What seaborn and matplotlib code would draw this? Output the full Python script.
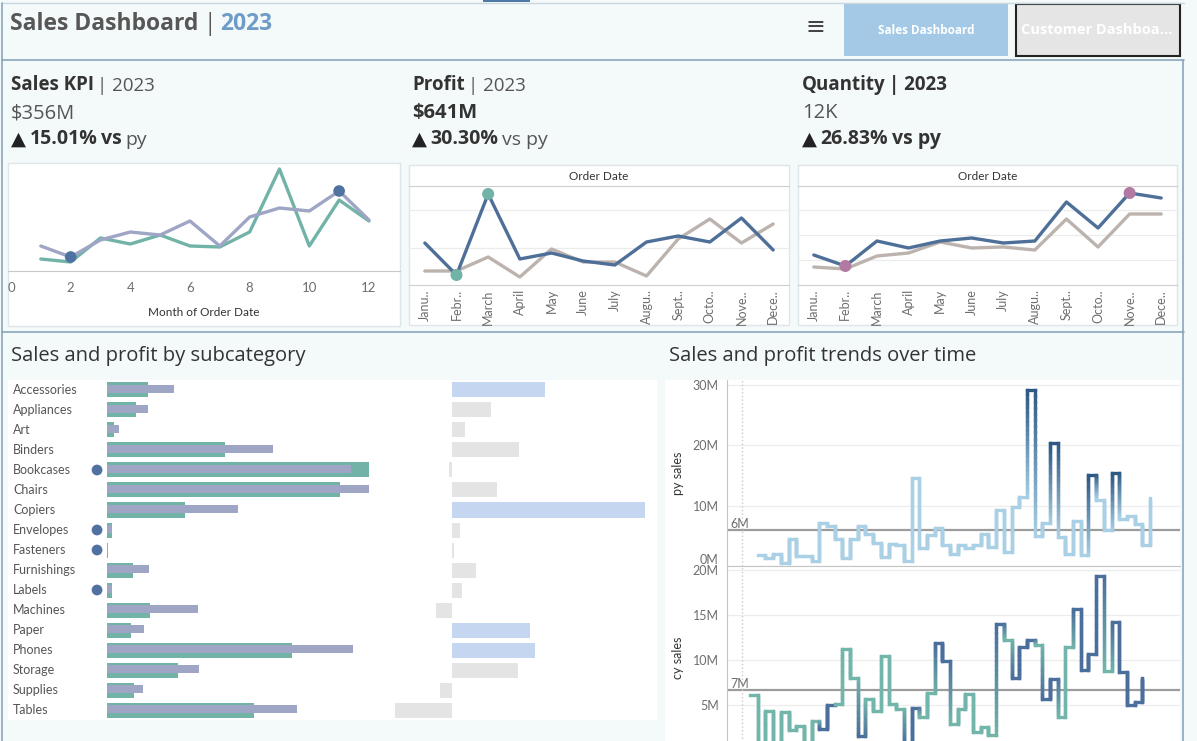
import matplotlib

matplotlib.use("Agg")
import matplotlib.pyplot as plt
import matplotlib.transforms as mtransforms
import numpy as np
import pandas as pd
import seaborn as sns
from matplotlib.collections import LineCollection
from matplotlib.colors import to_rgb
from matplotlib.lines import Line2D
from matplotlib.patches import Rectangle

W, H = 1197, 741

# ---- KPI data (monthly) ----
months_num = list(range(1, 13))
month_labels = ["Janu..", "Febr..", "March", "April", "May", "June",
                "July", "Augu..", "Sept..", "Octo..", "Nove..", "Dece.."]
sales_cy_month = [12, 9, 33, 27, 36, 25, 24, 39, 102, 25, 71, 50]
sales_py_month = [25, 14, 31, 39, 36, 50, 25, 54, 63, 60, 80, 51]
profit_cy_month = [42, 10, 91, 26, 32, 24, 20, 43, 49, 43, 67, 35]
profit_py_month = [14, 14, 28, 8, 36, 23, 23, 9, 46, 66, 42, 61]
qty_cy_month = [30, 19, 44, 37, 44, 47, 42, 44, 83, 57, 92, 87]
qty_py_month = [18, 16, 29, 32, 43, 37, 38, 35, 66, 38, 71, 71]

# ---- subcategory data (M) ----
subcategories = ["Accessories", "Appliances", "Art", "Binders", "Bookcases",
                 "Chairs", "Copiers", "Envelopes", "Fasteners", "Furnishings",
                 "Labels", "Machines", "Paper", "Phones", "Storage",
                 "Supplies", "Tables"]
sub_sales_cy = [11.1, 7.8, 1.9, 31.9, 70.7, 62.9, 21.1, 1.4, 0.3, 7.0,
                1.4, 11.6, 6.5, 50.0, 19.2, 7.3, 39.7]
sub_sales_py = [18.1, 11.1, 3.2, 44.8, 65.9, 70.7, 35.4, 1.4, 0.3, 11.3,
                1.4, 24.6, 10.0, 66.4, 24.8, 9.7, 51.3]
sub_profit = [9.3, 3.9, 1.3, 6.7, -0.3, 4.5, 19.3, 0.8, 0.2, 2.4,
              1.0, -1.6, 7.8, 8.3, 6.6, -1.2, -5.7]
sub_flagged = ["Bookcases", "Envelopes", "Fasteners", "Labels"]

# ---- weekly sales (M) ----
py_weeks = list(range(2, 54))
py_sales = [1.9, 1.3, 2.0, 0.5, 4.5, 1.6, 1.6, 0.9, 7.2, 6.7,
            4.5, 1.3, 4.5, 6.7, 5.3, 3.8, 1.5, 3.6, 3.4, 0.9,
            14.6, 3.0, 5.1, 6.3, 3.4, 2.0, 3.5, 2.9, 3.4, 5.3,
            3.1, 9.3, 2.3, 9.7, 11.5, 29.2, 4.9, 7.1, 20.3, 4.8,
            2.0, 7.4, 1.9, 15.1, 11.0, 6.0, 15.4, 7.8, 8.2, 6.9,
            3.4, 11.3]
cy_weeks = list(range(1, 53))
cy_sales = [6.1, 0.5, 4.3, 0.5, 4.2, 2.2, 2.7, 0.5, 3.2, 2.3,
            5.0, 5.1, 11.2, 8.0, 1.5, 5.6, 4.3, 10.4, 5.1, 4.6,
            0.5, 4.7, 3.7, 6.3, 11.9, 9.9, 2.9, 4.5, 6.2, 2.0,
            2.6, 1.7, 14.0, 12.2, 8.0, 11.4, 12.2, 11.6, 5.6, 7.9,
            3.7, 11.4, 15.6, 8.9, 10.6, 19.3, 8.8, 14.2, 8.7, 5.0,
            5.3, 8.0]
cy_flag = [0, 0, 0, 0, 0, 0, 0, 0, 0, 1,
           1, 0, 0, 0, 1, 0, 0, 0, 0, 0,
           1, 1, 0, 0, 1, 1, 0, 0, 0, 0,
           0, 0, 1, 0, 1, 1, 1, 0, 1, 1,
           0, 0, 1, 1, 1, 1, 0, 1, 1, 1,
           1, 1]

BG = "#f4f9fa"
BORDER = "#8ba6bb"
TEAL = "#72b3a7"
PURPLE = "#9fa6c5"
NAVY = "#4e6f98"
GREY_LINE = "#bcb3ae"
DOT_BLUE = "#4f72a0"
MAUVE = "#b17aa3"
TXT = "#333333"
TICK = "#6e6e6e"
BIG_FONT = ["Open Sans", "DejaVu Sans"]

sns.set_style("white")
plt.rcParams["font.family"] = ["Lato", "DejaVu Sans"]


def box(x0, y0, x1, y1):
    return [x0 / W, 1 - y1 / H, (x1 - x0) / W, (y1 - y0) / H]


fig = plt.figure(figsize=(W / 100, H / 100), dpi=100, facecolor=BG)
base = fig.add_axes([0, 0, 1, 1])
base.set_xlim(0, W)
base.set_ylim(H, 0)
base.axis("off")
base.set_zorder(-5)


def rect(x0, y0, x1, y1, fc="white", ec="none", lw=1.0):
    base.add_patch(Rectangle((x0, y0), x1 - x0, y1 - y0, fc=fc, ec=ec, lw=lw))


def hline(y, x0, x1, color=BORDER, lw=1.2):
    base.add_line(Line2D([x0, x1], [y, y], color=color, lw=lw))


def vline(x, y0, y1, color=BORDER, lw=1.2):
    base.add_line(Line2D([x, x], [y0, y1], color=color, lw=lw))


def rich(x, y, parts, size, gap=2.5):
    prev = None
    for txt, weight, color in parts:
        if prev is None:
            prev = base.text(x, y, txt, fontsize=size, fontweight=weight,
                             color=color, va="center", ha="left",
                             family=BIG_FONT)
        else:
            prev = base.annotate(txt, xy=(1, 0), xycoords=prev,
                                 xytext=(gap, 0), textcoords="offset points",
                                 fontsize=size, fontweight=weight,
                                 color=color, va="bottom", ha="left",
                                 family=BIG_FONT)


# ---- frame / header ----
rect(483, 0, 530, 2, fc="#4e79a7")
hline(3, 2, 1184, color="#c9d7e0", lw=1)
hline(60, 2, 1184)
hline(332, 2, 1184)
vline(2, 3, 741)
vline(1183, 60, 741)

rich(10, 24, [("Sales Dashboard", "bold", "#575757"),
              ("|", "normal", "#575757"),
              ("2023", "bold", "#6e9cc6")], 16.5, gap=3.5)
base.text(815, 27, "\u2261", fontsize=17, color="#444444", ha="center",
          va="center", family="DejaVu Sans")
rect(844, 4, 1008, 56, fc="#a3c9e6")
base.text(926, 30, "Sales Dashboard", fontsize=8.5, fontweight="bold",
          color="white", ha="center", va="center", family=BIG_FONT)
rect(1016, 4, 1180, 56, fc="#e5e5e5", ec="#222222", lw=1.5)
base.text(1097, 30, "Customer Dashboa...", fontsize=10.5, fontweight="bold",
          color="white", ha="center", va="center", family=BIG_FONT)

# ---- KPI texts ----
rich(11, 85, [("Sales KPI", "bold", TXT), ("| 2023", "normal", "#555555")], 13.5)
rich(11, 113, [("$356M", "normal", "#555555")], 14.5)
rich(11, 140, [("\u25b2", "normal", "#222222"), ("15.01%", "bold", TXT),
               ("vs", "bold", TXT), ("py", "normal", "#555555")], 14)
rich(412, 85, [("Profit", "bold", TXT), ("| 2023", "normal", "#555555")], 13.5)
rich(412, 113, [("$641M", "bold", TXT)], 14.5)
rich(412, 140, [("\u25b2", "normal", "#222222"), ("30.30%", "bold", TXT),
                ("vs py", "normal", "#555555")], 14)
rich(802, 85, [("Quantity", "bold", TXT), ("| 2023", "bold", TXT)], 13.5)
rich(802, 113, [("12K", "normal", "#555555")], 14.5)
rich(802, 140, [("\u25b2", "normal", "#222222"), ("26.83%", "bold", TXT),
                ("vs py", "bold", TXT)], 14)

# ---- KPI chart 1 : Sales ----
rect(8, 163, 400, 326, ec="#dfe6ea")
ax1 = fig.add_axes(box(8, 164, 400, 271))
ax1.set_facecolor("none")
sns.lineplot(x=months_num, y=sales_cy_month, color=TEAL, lw=2.4, ax=ax1)
sns.lineplot(x=months_num, y=sales_py_month, color=PURPLE, lw=2.4, ax=ax1)
py_s = pd.Series(sales_py_month, index=months_num)
ext = [py_s.idxmin(), py_s.idxmax()]
sns.scatterplot(x=ext, y=py_s[ext].values, color=DOT_BLUE, s=70,
                edgecolor="none", zorder=5, ax=ax1)
ax1.set_xlim(-0.1, 13.04)
ax1.set_ylim(0, 107)
ax1.set_yticks([])
ax1.set_xticks(range(0, 13, 2))
ax1.tick_params(axis="x", length=0, pad=8, labelsize=9.5, labelcolor=TICK)
ax1.set_xlabel("Month of Order Date", fontsize=8.5, color=TXT, labelpad=9)
ax1.set_ylabel("")
sns.despine(ax=ax1, left=True)
ax1.spines["bottom"].set_color("#c8c8c8")


def month_chart(ax, cy, py, dot_color):
    ax.set_facecolor("none")
    xs = np.arange(len(month_labels))
    sns.lineplot(x=xs, y=py, color=GREY_LINE, lw=2.4, ax=ax)
    sns.lineplot(x=xs, y=cy, color=NAVY, lw=2.4, ax=ax)
    s = pd.Series(cy, index=xs)
    ext = [s.idxmin(), s.idxmax()]
    sns.scatterplot(x=ext, y=s[ext].values, color=dot_color, s=75,
                    edgecolor="none", zorder=5, ax=ax)
    ax.set_xlim(-0.5, 11.5)
    ax.set_ylim(0, 99)
    ax.set_xticks(xs)
    ax.set_xticklabels(month_labels, rotation=90)
    ax.tick_params(axis="x", length=0, pad=3, labelsize=9, labelcolor=TICK)
    ax.tick_params(axis="y", length=0, labelleft=False)
    ax.grid(axis="y", color="#ececec", lw=0.9)
    ax.set_xlabel("")
    ax.set_ylabel("")
    for side in ["left", "right"]:
        ax.spines[side].set_visible(False)
    for side in ["top", "bottom"]:
        ax.spines[side].set_color("#cfcfcf")
    ax.set_title("Order Date", fontsize=8.5, color=TXT, pad=4)


rect(409, 165, 789, 325, ec="#dfe6ea")
ax2 = fig.add_axes(box(409, 186, 789, 285))
month_chart(ax2, profit_cy_month, profit_py_month, TEAL)
ax2.set_yticks([37.5, 75])

rect(798, 165, 1177, 325, ec="#dfe6ea")
ax3 = fig.add_axes(box(798, 186, 1177, 285))
month_chart(ax3, qty_cy_month, qty_py_month, MAUVE)
ax3.set_yticks([25, 50, 75])

# ---- Sales and profit by subcategory ----
base.text(11, 356, "Sales and profit by subcategory", fontsize=14.5,
          color=TXT, va="center", family=BIG_FONT)
rect(8, 380, 657, 720)
rows = np.arange(len(subcategories))

axs = fig.add_axes(box(90, 380, 370, 720))
axs.set_facecolor("none")
sns.barplot(x=sub_sales_cy, y=subcategories, color=TEAL, width=0.75,
            saturation=1, errorbar=None, linewidth=0, ax=axs)
axs.barh(rows - 0.03, sub_sales_py, height=0.4, color=PURPLE, linewidth=0)
flag_rows = [subcategories.index(s) for s in sub_flagged]
sns.scatterplot(x=[-2.7] * len(flag_rows), y=flag_rows, color=DOT_BLUE,
                s=60, edgecolor="none", zorder=5, ax=axs)
axs.set_xlim(-4.6, 71.0)
axs.set_ylim(16.5, -0.5)
axs.axis("off")
lbl_tr = mtransforms.blended_transform_factory(base.transData, axs.transData)
for i, name in enumerate(subcategories):
    base.text(13, i, name, transform=lbl_tr, fontsize=9, color="#555555",
              va="center", ha="left")

axp = fig.add_axes(box(390, 380, 657, 720))
axp.set_facecolor("none")
top4 = sorted(sub_profit, reverse=True)[3]
prof_group = ["top" if p >= top4 else "other" for p in sub_profit]
sns.barplot(x=sub_profit, y=subcategories, hue=prof_group,
            palette={"top": "#c5d7f0", "other": "#e4e4e4"}, dodge=False,
            width=0.75, saturation=1, errorbar=None, legend=False,
            linewidth=0, ax=axp)
axp.set_xlim(-6.2, 20.5)
axp.set_ylim(16.5, -0.5)
axp.axis("off")

# ---- Sales and profit trends over time ----
base.text(669, 356, "Sales and profit trends over time", fontsize=14.5,
          color=TXT, va="center", family=BIG_FONT)
rect(665, 380, 1180, 741)


def step_collection(xs, ys, shade, c_lo, c_hi, n_sub=24):
    lo, hi = np.array(to_rgb(c_lo)), np.array(to_rgb(c_hi))
    segs, cols = [], []
    for i in range(len(xs) - 1):
        segs.append([(xs[i], ys[i]), (xs[i + 1], ys[i])])
        cols.append(lo + (hi - lo) * shade[i])
        yy = np.linspace(ys[i], ys[i + 1], n_sub + 1)
        tt = np.linspace(shade[i], shade[i + 1], n_sub + 1)
        for k in range(n_sub):
            segs.append([(xs[i + 1], yy[k]), (xs[i + 1], yy[k + 1])])
            cols.append(lo + (hi - lo) * (tt[k] + tt[k + 1]) / 2)
    return LineCollection(segs, colors=cols, linewidths=2.4,
                          capstyle="projecting", zorder=3)


def trend_axes(ax, weeks, vals, shade, c_lo, c_hi, ymax, ticks, label):
    ax.set_facecolor("none")
    ax.add_collection(step_collection(weeks, vals, shade, c_lo, c_hi))
    mean = float(np.mean(vals))
    ax.axhline(mean, color="#9c9c9c", lw=1.6, zorder=2)
    ax.text(-1.6, mean, f"{mean:.0f}M", fontsize=9, color=TICK,
            va="bottom", ha="left")
    ax.axvline(0, color="#c8c8c8", ls=":", lw=1)
    ax.set_xlim(-2, 56.9)
    ax.set_ylim(0, ymax)
    ax.set_xticks([])
    ax.set_yticks(ticks)
    ax.set_yticklabels([f"{t}M" for t in ticks])
    ax.tick_params(axis="y", length=0, pad=6, labelsize=9, labelcolor=TICK)
    ax.grid(axis="y", color="#ededed", lw=0.9)
    ax.set_ylabel(label, fontsize=9, color=TXT, labelpad=6)
    for side in ["top", "right"]:
        ax.spines[side].set_visible(False)
    for side in ["left", "bottom"]:
        ax.spines[side].set_color("#c4c4c4")


axt = fig.add_axes(box(727, 380, 1180, 566))
py_shade = [1.0 if v >= 14.8 else 0.0 for v in py_sales]
trend_axes(axt, py_weeks, py_sales, py_shade, "#a9d0e5", "#2c5884",
           30.8, [0, 10, 20, 30], "py sales")
for lab in axt.get_yticklabels():
    if lab.get_text() == "0M":
        lab.set_va("bottom")

axb = fig.add_axes(box(727, 566, 1180, 750))
trend_axes(axb, cy_weeks, cy_sales, cy_flag, "#72b5aa", "#4b6f9c",
           20.4, [5, 10, 15, 20], "cy sales")
axb.spines["bottom"].set_visible(False)

fig.savefig("out.png", dpi=100, facecolor=BG)
